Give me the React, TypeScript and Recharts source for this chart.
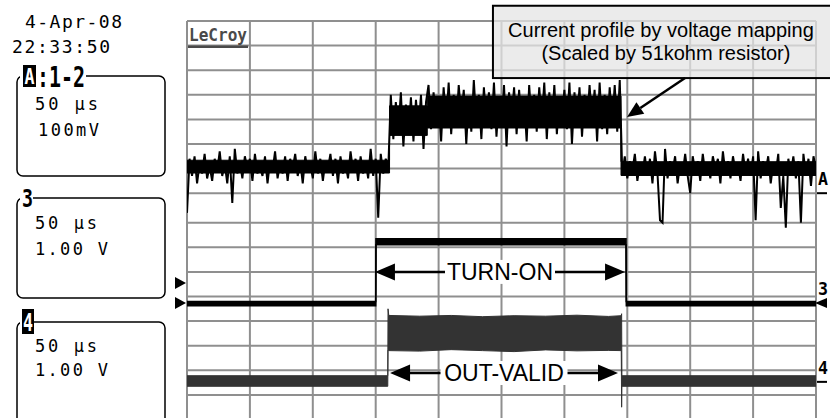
import { ComposedChart, Line, Area, XAxis, YAxis, CartesianGrid, ReferenceLine, ReferenceArea, ReferenceDot } from 'recharts'

// time axis in µs (50 µs/div), vertical axis in screen divisions from the top
const timeTicks = [0, 50, 100, 150, 200, 250, 300, 350, 400, 450, 500]
const divTicks = [0, 1, 2, 3, 4, 5, 6, 7, 8, 8.2, 9.2, 10.2, 11.2, 12.2, 13.2, 14.2, 15.2, 16.2]

// channel A (1-2), read every 2 µs, in four pieces
const sampleStep = 2
const aBeforeStart = 0
const aBefore = [
  7.8, 5.6, 6.3, 5.5, 6.6, 5.8, 6.2, 5.4, 6.4, 5.9,
  6.5, 5.6, 6.1, 5.3, 6.3, 5.8, 6.6, 5.5, 7.4, 5.2,
  6.2, 5.7, 6.4, 5.5, 6.0, 5.6, 6.5, 5.4, 6.2, 5.9,
  6.3, 5.5, 6.6, 5.7, 6.1, 5.3, 6.4, 5.8, 6.2, 5.5,
  6.5, 5.6, 6.0, 5.4, 6.3, 5.7, 6.6, 5.5, 6.1, 5.8,
  6.4, 5.3, 6.2, 5.6, 6.5, 5.7, 6.0, 5.4, 6.3, 5.6,
  6.6, 5.5, 6.2, 5.8, 6.4, 5.3, 6.1, 5.6, 6.5, 5.5,
  6.2, 5.7, 6.4, 5.2, 6.3, 5.6, 8.0, 5.4, 6.2, 5.6,
  6.0,
]
const aRampStart = 162
const aRamp = [3.0, 4.8, 3.3, 4.5, 2.9, 5.1, 3.4, 4.6, 3.1, 4.9, 3.2, 4.4, 3.0, 5.2, 3.3]
const aOnStart = 192
const aOn = [
  2.6, 4.4, 2.9, 4.0, 3.2, 4.9, 2.7, 4.2, 2.5, 4.6,
  3.0, 4.3, 2.6, 3.9, 2.8, 5.0, 3.1, 4.5, 2.4, 4.2,
  3.0, 4.8, 2.7, 4.1, 2.9, 4.4, 2.5, 4.7, 3.1, 4.3,
  2.6, 5.1, 2.9, 4.0, 2.7, 4.6, 2.8, 4.3, 3.2, 4.9,
  2.6, 4.2, 3.0, 4.5, 2.7, 4.1, 2.5, 4.8, 2.9, 4.3,
  2.6, 4.6, 3.1, 4.0, 2.8, 4.4, 2.5, 5.0, 2.9, 4.2,
  2.7, 4.7, 3.0, 4.3, 2.6, 4.1, 2.8, 4.9, 2.5, 4.4,
  3.0, 4.6, 2.7, 4.2, 2.6, 4.5, 2.4,
]
const aAfterStart = 346
const aAfter = [
  6.2, 5.5, 6.4, 5.7, 6.1, 5.4, 6.5, 5.8, 6.2, 5.5,
  6.3, 5.6, 6.6, 5.3, 6.2, 8.1, 8.2, 5.2, 6.4, 5.7,
  6.1, 5.5, 6.6, 5.8, 6.2, 5.4, 6.3, 7.0, 5.5, 6.1,
  5.7, 6.5, 5.4, 6.2, 5.8, 6.4, 5.5, 6.0, 5.6, 6.6,
  5.3, 6.2, 5.7, 6.4, 5.5, 6.1, 5.8, 6.5, 5.4, 6.2,
  5.6, 6.3, 5.5, 8.1, 5.3, 6.4, 5.7, 6.1, 5.5, 6.6,
  5.8, 6.2, 5.4, 7.6, 6.3, 8.4, 5.6, 6.2, 5.5, 6.4,
  5.7, 8.2, 5.4, 6.3, 5.6, 6.7, 5.5, 6.0,
]

// dense core of channel A
const coreTime = [0, 161, 161, 191, 191, 345, 345, 500]
const coreTop = [5.66, 5.66, 3.45, 3.45, 3.05, 3.05, 5.72, 5.72]
const coreBottom = [6.18, 6.18, 4.65, 4.65, 4.35, 4.35, 6.28, 6.28]

// channel 3
const ch3Time = [0, 150, 150.2, 349, 349.2, 500]
const ch3Top = [11.4, 11.4, 8.85, 8.85, 11.4, 11.4]
const ch3Bottom = [11.58, 11.58, 9.1, 9.1, 11.58, 11.58]

// channel 4
const ch4Time = [0, 159.6, 159.8, 160.4, 185, 210, 235, 260, 285, 310, 335, 345.2, 345.5, 345.7, 500]
const ch4Top = [14.42, 14.42, 11.7, 11.97, 12.0, 11.97, 12.02, 11.98, 12.0, 11.96, 12.01, 11.98, 11.9, 14.42, 14.42]
const ch4Bottom = [14.85, 14.85, 13.38, 13.4, 13.42, 13.36, 13.4, 13.44, 13.37, 13.41, 13.39, 13.4, 15.7, 14.85, 14.85]

const piece = (start: number, values: number[]) => values.map((v, i) => ({ t: start + i * sampleStep, v }))
const traceARows = [
  ...piece(aBeforeStart, aBefore),
  ...piece(aRampStart, aRamp),
  ...piece(aOnStart, aOn),
  ...piece(aAfterStart, aAfter),
]
const band = (time: number[], top: number[], bottom: number[]) =>
  time.map((t, i) => ({ t, band: [top[i], bottom[i]] }))
const coreRows = band(coreTime, coreTop, coreBottom)
const ch3Rows = band(ch3Time, ch3Top, ch3Bottom)
const ch4Rows = band(ch4Time, ch4Top, ch4Bottom)

const mono = '"DejaVu Sans Mono", monospace'
const sans = '"Liberation Sans", Arial, sans-serif'

const labelWidths: Record<string, number> = { 'TURN-ON': 106, 'OUT-VALID': 123 }

const doubleArrow = (label: string) => (p: any) => {
  const { x1, y1, x2 } = p
  const mid = (x1 + x2) / 2
  const w = labelWidths[label] + 4
  return (
    <g>
      <line x1={x1 + 16} y1={y1} x2={x2 - 16} y2={y1} stroke="#000" strokeWidth={2.5} />
      <polygon points={`${x1},${y1} ${x1 + 20},${y1 - 8.5} ${x1 + 20},${y1 + 8.5}`} fill="#000" />
      <polygon points={`${x2},${y1} ${x2 - 20},${y1 - 8.5} ${x2 - 20},${y1 + 8.5}`} fill="#000" />
      <rect x={mid - w / 2} y={y1 - 12} width={w} height={24} fill="#fff" />
      <text x={mid} y={y1 + 8} textAnchor="middle" fontFamily={sans} fontSize={23} fill="#000">{label}</text>
    </g>
  )
}

const pointerArrow = (p: any) => {
  const { x1, y1, x2, y2 } = p
  const len = Math.hypot(x2 - x1, y2 - y1)
  const ux = (x2 - x1) / len
  const uy = (y2 - y1) / len
  const bx = x2 - ux * 16
  const by = y2 - uy * 16
  return (
    <g>
      <line x1={x1} y1={y1} x2={bx} y2={by} stroke="#000" strokeWidth={2.5} />
      <polygon points={`${x2},${y2} ${bx - uy * 7},${by + ux * 7} ${bx + uy * 7},${by - ux * 7}`} fill="#000" />
    </g>
  )
}

const noteBox = (p: any) => {
  const { x, y, width, height } = p
  return (
    <g>
      <rect x={x} y={y} width={width} height={height} fill="#e4e4e4" fillOpacity={0.75} stroke="#000" strokeWidth={2} />
      <text x={x + 168} y={y + 31} textAnchor="middle" fontFamily={sans} fontSize={20} fill="#000">Current profile by voltage mapping</text>
      <text x={x + 173} y={y + 54} textAnchor="middle" fontFamily={sans} fontSize={20} fill="#000">(Scaled by 51kohm resistor)</text>
    </g>
  )
}

const rightMarker = (label: string, kind: 'bar' | 'tri') => (p: any) => {
  const { cx, cy } = p
  return (
    <g>
      <text x={cx + 2} y={cy - 8} fontFamily={mono} fontWeight="bold" fontSize={18} textLength={10} lengthAdjust="spacingAndGlyphs" fill="#000">{label}</text>
      {kind === 'bar'
        ? <rect x={cx + 1} y={cy - 1} width={10} height={2} fill="#000" />
        : <polygon points={`${cx - 1},${cy} ${cx + 11},${cy - 5} ${cx + 11},${cy + 5}`} fill="#000" />}
    </g>
  )
}

const leftMarker = (p: any) => {
  const { cx, cy } = p
  return <polygon points={`${cx - 12},${cy - 6} ${cx - 1},${cy} ${cx - 12},${cy + 6}`} fill="#000" />
}

function Panels() {
  const t = { fontFamily: mono, fontSize: 17, fill: '#000' }
  return (
    <svg width={830} height={418} style={{ position: 'absolute', left: 0, top: 0, pointerEvents: 'none' }}>
      <text {...t} fontSize={18} x={25} y={28} textLength={97}>4-Apr-08</text>
      <text {...t} fontSize={18} x={12} y={53} textLength={98}>22:33:50</text>

      <rect x={17} y={76} width={148} height={100} rx={6} fill="none" stroke="#000" strokeWidth={1.5} />
      <rect x={20} y={64} width={66} height={16} fill="#fff" />
      <rect x={23} y={65} width={13} height={22} fill="#000" />
      <text x={24.5} y={84} fontFamily={mono} fontWeight="bold" fontSize={22} textLength={10} lengthAdjust="spacingAndGlyphs" fill="#fff">A</text>
      <text x={37} y={87} fontFamily={mono} fontWeight="bold" fontSize={29} textLength={48} lengthAdjust="spacingAndGlyphs" fill="#000">:1-2</text>
      <text {...t} x={35} y={110} textLength={63}>50 µs</text>
      <text {...t} x={38} y={136} textLength={61}>100mV</text>

      <rect x={17} y={198} width={148} height={100} rx={6} fill="none" stroke="#000" strokeWidth={1.5} />
      <rect x={20} y={186} width={13} height={16} fill="#fff" />
      <text x={22} y={207} fontFamily={mono} fontWeight="bold" fontSize={24} textLength={11} lengthAdjust="spacingAndGlyphs" fill="#000">3</text>
      <text {...t} x={35} y={229} textLength={62}>50 µs</text>
      <text {...t} x={35} y={255} textLength={73}>1.00 V</text>

      <rect x={17} y={322} width={148} height={130} rx={6} fill="none" stroke="#000" strokeWidth={1.5} />
      <rect x={20} y={308} width={14} height={20} fill="#fff" />
      <rect x={22} y={309} width={12} height={25} fill="#000" />
      <text x={23} y={331} fontFamily={mono} fontWeight="bold" fontSize={24} textLength={10} lengthAdjust="spacingAndGlyphs" fill="#fff">4</text>
      <text {...t} x={35} y={352} textLength={62}>50 µs</text>
      <text {...t} x={35} y={376} textLength={73}>1.00 V</text>

      <text x={189} y={41} fontFamily={mono} fontWeight="bold" fontSize={18} textLength={58} lengthAdjust="spacingAndGlyphs" fill="#4a4a4a">LeCroy</text>
      <rect x={188} y={45.5} width={60} height={2.5} fill="#4a4a4a" />
    </svg>
  )
}

export default function App() {
  return (
    <div style={{ position: 'absolute', left: 0, top: 0, width: 830, height: 418, overflow: 'hidden', background: '#fff' }}>
      <ComposedChart width={830} height={440} margin={{ top: 21, right: 14, bottom: 20.5, left: 187 }}>
        <CartesianGrid stroke="#8f8f8f" strokeWidth={2} horizontalValues={divTicks} verticalValues={timeTicks} />
        <XAxis type="number" dataKey="t" domain={[0, 500]} ticks={timeTicks} hide allowDataOverflow />
        <YAxis type="number" domain={[0, 16.2]} ticks={divTicks} reversed hide allowDataOverflow />
        <ReferenceArea x1={243.2} x2={520} y1={-0.62} y2={2.32} ifOverflow="visible" shape={noteBox} />
        <Area data={ch4Rows} dataKey="band" type="linear" stroke="#333" strokeWidth={1} fill="#333" fillOpacity={1} dot={false} activeDot={false} isAnimationActive={false} />
        <Area data={ch3Rows} dataKey="band" type="linear" stroke="#000" strokeWidth={1.5} fill="#000" fillOpacity={1} dot={false} activeDot={false} isAnimationActive={false} />
        <Area data={coreRows} dataKey="band" type="linear" stroke="#000" strokeWidth={1} fill="#000" fillOpacity={1} dot={false} activeDot={false} isAnimationActive={false} />
        <Line data={traceARows} dataKey="v" type="linear" stroke="#000" strokeWidth={2} dot={false} activeDot={false} isAnimationActive={false} />
        <ReferenceLine segment={[{ x: 149.4, y: 10.2 }, { x: 348.2, y: 10.2 }]} shape={doubleArrow('TURN-ON')} />
        <ReferenceLine segment={[{ x: 161.4, y: 14.31 }, { x: 342.6, y: 14.31 }]} shape={doubleArrow('OUT-VALID')} />
        <ReferenceLine segment={[{ x: 395.9, y: 2.32 }, { x: 349.8, y: 3.9 }]} shape={pointerArrow} />
        <ReferenceDot x={500} y={7.0} ifOverflow="visible" shape={rightMarker('A', 'bar')} />
        <ReferenceDot x={500} y={11.46} ifOverflow="visible" shape={rightMarker('3', 'tri')} />
        <ReferenceDot x={500} y={14.67} ifOverflow="visible" shape={rightMarker('4', 'bar')} />
        <ReferenceDot x={0} y={10.65} ifOverflow="visible" shape={leftMarker} />
        <ReferenceDot x={0} y={11.46} ifOverflow="visible" shape={leftMarker} />
      </ComposedChart>
      <Panels />
    </div>
  )
}
